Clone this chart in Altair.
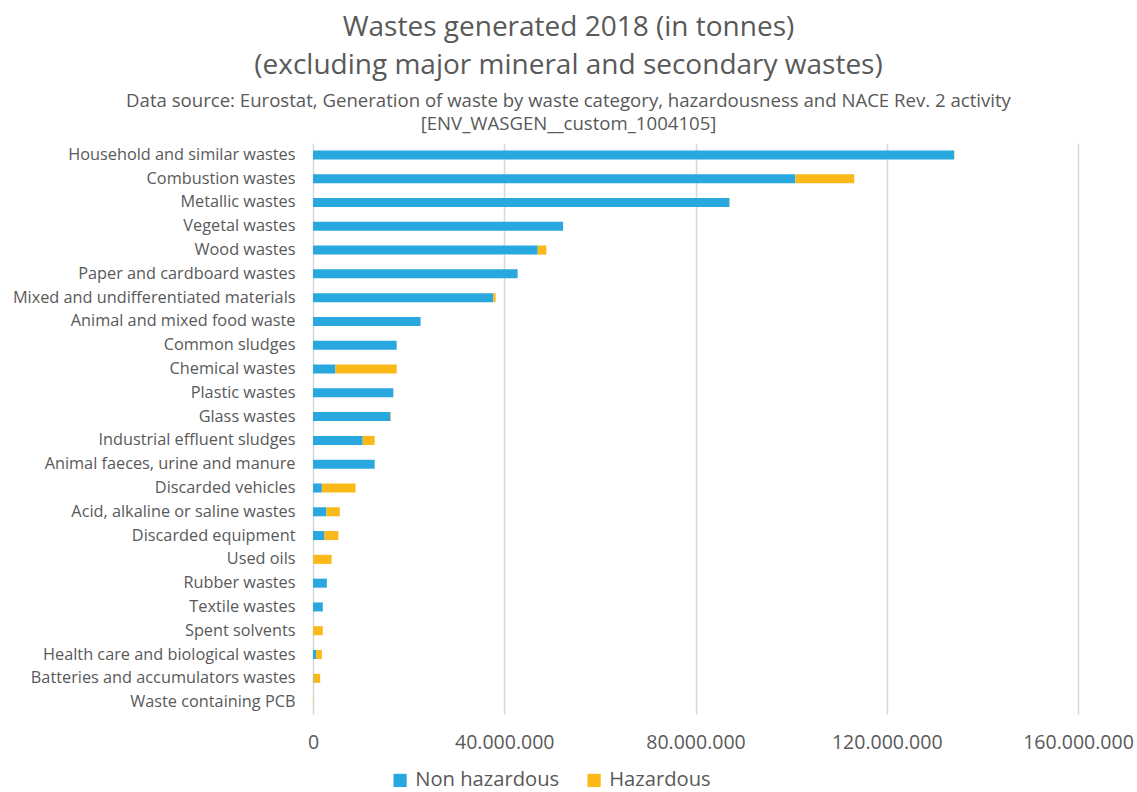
import altair as alt
import pandas as pd

categories = [
    "Household and similar wastes",
    "Combustion wastes",
    "Metallic wastes",
    "Vegetal wastes",
    "Wood wastes",
    "Paper and cardboard wastes",
    "Mixed and undifferentiated materials",
    "Animal and mixed food waste",
    "Common sludges",
    "Chemical wastes",
    "Plastic wastes",
    "Glass wastes",
    "Industrial effluent sludges",
    "Animal faeces, urine and manure",
    "Discarded vehicles",
    "Acid, alkaline or saline wastes",
    "Discarded equipment",
    "Used oils",
    "Rubber wastes",
    "Textile wastes",
    "Spent solvents",
    "Health care and biological wastes",
    "Batteries and accumulators wastes",
    "Waste containing PCB",
]
non_hazardous = [
    134100000, 100900000, 87100000, 52300000, 47000000, 42800000, 37700000,
    22500000, 17500000, 4700000, 16800000, 16200000, 10400000, 12900000,
    1850000, 2800000, 2400000, 50000, 2900000, 2050000, 50000, 650000,
    100000, 0,
]
hazardous = [
    50000, 12300000, 50000, 0, 1800000, 0, 500000,
    0, 0, 12800000, 0, 100000, 2500000, 0,
    7050000, 2800000, 2900000, 3850000, 0, 0, 2000000, 1200000,
    1400000, 50000,
]
series = ["Non hazardous", "Hazardous"]
colors = ["#29a8e0", "#fbb919"]
x_ticks = [0, 40000000, 80000000, 120000000, 160000000]

rows = []
for c, nh, hz in zip(categories, non_hazardous, hazardous):
    rows.append({"category": c, "series": series[0], "value": nh, "order": 0})
    rows.append({"category": c, "series": series[1], "value": hz, "order": 1})
df = pd.DataFrame(rows)

FONT = "Open Sans"
TXT = "#595959"

chart = alt.Chart(df).mark_bar().encode(
    y=alt.Y(
        "category:N",
        sort=categories,
        title=None,
        scale=alt.Scale(paddingInner=0.62, paddingOuter=0.31),
        axis=alt.Axis(
            labelFont=FONT, labelFontSize=16.3, labelColor=TXT, labelPadding=18,
            ticks=False, domain=False, grid=False, labelLimit=400,
        ),
    ),
    x=alt.X(
        "value:Q",
        stack="zero",
        title=None,
        scale=alt.Scale(domain=[0, 160000000], nice=False),
        axis=alt.Axis(
            values=x_ticks, format=",d", labelFont=FONT, labelFontSize=19.5,
            labelColor=TXT, labelPadding=19, ticks=False, domain=False,
            grid=True, gridColor="#d9d9d9", gridWidth=1.6,
            labelOverlap=False, labelFlush=False,
        ),
    ),
    color=alt.Color(
        "series:N",
        scale=alt.Scale(domain=series, range=colors),
        sort=series,
        legend=alt.Legend(
            title=None, orient="none", direction="horizontal",
            legendX=77, legendY=627, labelFont=FONT, labelFontSize=20.2,
            labelColor=TXT, symbolType="square", symbolSize=175,
            symbolStrokeWidth=0, columnPadding=24, labelOffset=5,
        ),
    ),
    order=alt.Order("order:Q"),
).properties(
    width=765,
    height=571,
    title=alt.TitleParams(
        text=["Wastes generated 2018 (in tonnes)",
              "(excluding major mineral and secondary wastes)"],
        subtitle=["Data source: Eurostat, Generation of waste by waste category, hazardousness and NACE Rev. 2 activity",
                  "[ENV_WASGEN__custom_1004105]"],
        anchor="middle", dx=-127, font=FONT, fontSize=28, fontWeight="normal",
        color=TXT, lineHeight=38, subtitleFont=FONT, subtitleFontSize=18.6,
        subtitleColor=TXT, subtitleLineHeight=23, subtitlePadding=12, offset=9,
    ),
    autosize=alt.AutoSizeParams(type="none"),
    padding={"left": 313, "top": 143, "right": 59, "bottom": 78},
).configure(background="white").configure_view(stroke=None)

chart.save(
    "out.html",
    embed_options={
        "renderer": "svg",
        "actions": False,
        "formatLocale": {
            "decimal": ",", "thousands": ".", "grouping": [3],
            "currency": ["", "\u00a0€"],
        },
    },
)
